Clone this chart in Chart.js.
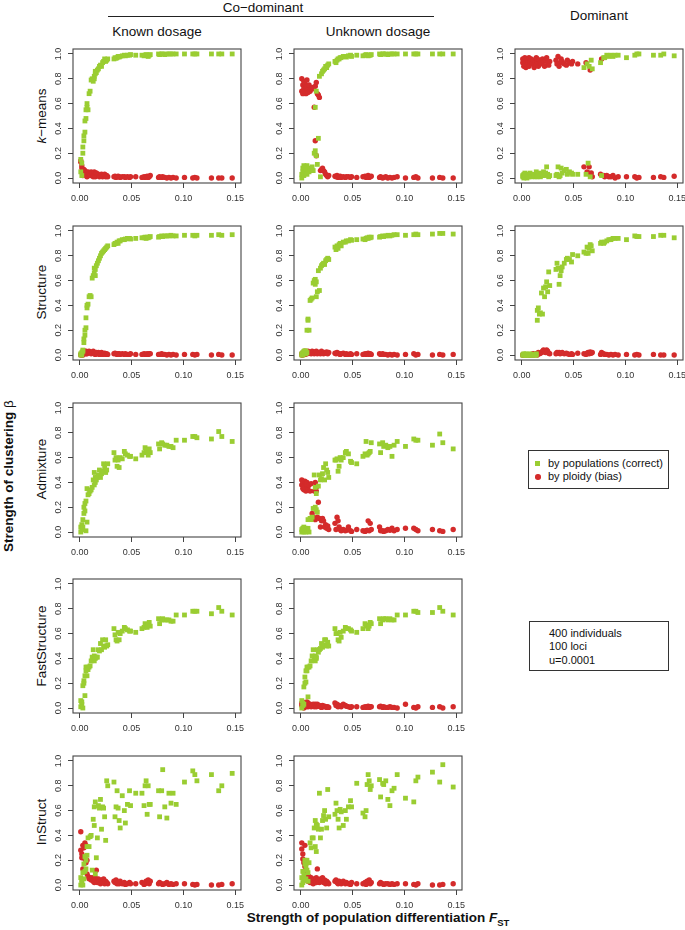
<!DOCTYPE html>
<html><head><meta charset="utf-8">
<script src="https://cdn.jsdelivr.net/npm/chart.js@4/dist/chart.umd.min.js"></script>
<style>
body{margin:0;background:#fff;}
#fig{position:relative;width:685px;height:930px;overflow:hidden;font-family:'Liberation Sans',Arial,sans-serif;color:#111;}
.t{position:absolute;white-space:nowrap;transform:translate(-50%,-50%);font-size:13.5px;line-height:1;}
.r{position:absolute;white-space:nowrap;transform:translate(-50%,-50%) rotate(-90deg);font-size:13.5px;line-height:1;}
canvas{position:absolute;}
.box{position:absolute;border:1px solid #333;box-sizing:border-box;font-size:11px;}
</style></head>
<body>
<div id="fig">
  <div class="t" style="left:263px;top:8px;">Co−dominant</div>
  <div style="position:absolute;left:108px;top:16px;width:326px;height:0;border-top:1.3px solid #222;"></div>
  <div class="t" style="left:157px;top:32px;">Known dosage</div>
  <div class="t" style="left:378px;top:32px;">Unknown dosage</div>
  <div class="t" style="left:599px;top:16px;">Dominant</div>
  <div class="r" style="left:42px;top:116px;"><i>k</i>−means</div>
  <div class="r" style="left:42px;top:292px;">Structure</div>
  <div class="r" style="left:42px;top:469px;">Admixture</div>
  <div class="r" style="left:42px;top:646px;">FastStructure</div>
  <div class="r" style="left:42px;top:822px;">InStruct</div>
  <div class="r" style="left:9px;top:476px;font-weight:bold;">Strength of clustering <span style="font-weight:normal">β</span></div>
  <div class="t" style="left:378px;top:919px;font-weight:bold;">Strength of population differentiation <i>F</i><sub style="font-size:9.5px;">ST</sub></div>
  <div class="box" style="left:528px;top:450px;width:141px;height:39px;">
    <div style="position:absolute;left:6px;top:10px;width:5px;height:5px;background:#9ACD32;"></div>
    <div style="position:absolute;left:6px;top:23px;width:5.5px;height:5.5px;border-radius:50%;background:#D42B2B;"></div>
    <div style="position:absolute;left:19px;top:6px;line-height:13px;">by populations (correct)<br>by ploidy (bias)</div>
  </div>
  <div class="box" style="left:529px;top:621px;width:140px;height:50px;">
    <div style="position:absolute;left:19px;top:5px;line-height:13.3px;">400 individuals<br>100 loci<br>u=0.0001</div>
  </div>
</div>
<script>
// ---------- data ----------
const fst = [
0.001,0.001,0.002,0.002,0.003,0.003,0.004,0.004,0.005,0.005,
0.006,0.006,0.007,0.007,0.008,0.009,0.010,0.011,0.012,0.013,
0.014,0.014,0.015,0.015,0.016,0.017,0.018,0.019,0.020,0.021,
0.022,0.023,0.024,0.025,0.026,0.027,0.033,0.034,0.035,0.036,
0.037,0.038,0.039,0.041,0.043,0.044,0.046,0.048,0.049,0.054,
0.060,0.062,0.063,0.064,0.065,0.066,0.067,0.068,0.076,0.077,
0.079,0.080,0.082,0.084,0.086,0.088,0.090,0.093,0.101,0.109,
0.111,0.113,0.127,0.134,0.137,0.147];

const xTickLabels = ['0.00','0.05','0.10','0.15'];
const yTickLabels = ['0.0','0.2','0.4','0.6','0.8','1.0'];
const seriesNames = ['by populations (correct)','by ploidy (bias)'];

const kmKnownPop = [
.15,.05,.12,.02,.25,.20,.34,.30,.37,.46,
.48,.55,.57,.60,.55,.68,.70,.79,.80,.78,
.82,.80,.84,.86,.85,.87,.88,.90,.91,.90,
.93,.94,.96,.94,.95,.96,.96,.97,.965,.97,
.98,.975,.98,.985,.99,.985,.99,.99,.995,.99,
.99,.985,.99,.995,.99,.98,.99,.995,1,.995,
1,1,.995,1,1,1,1,1,1,1,
1,1,1,1,1,1];
const kmKnownPloidy = [
.13,.14,.08,.10,.05,.02,.07,.04,.06,.03,
.05,.02,.04,.01,.05,.03,.02,.05,.04,.01,
.05,.02,.03,.01,.04,.02,.03,.01,.02,.03,
.01,.02,.03,.01,.02,.01,.01,.015,.005,.01,
.015,.01,.005,.01,.01,.005,.01,.005,.01,.01,
.005,.01,.005,.01,.015,.005,.01,.02,.005,.01,
.005,.01,.005,0,.005,0,.005,0,.005,0,
.005,0,0,0,0,0];
const kmUnknownPop = [
.03,0,.05,.08,.02,.10,.06,.09,.04,.07,
.10,.03,.06,.08,.05,.07,.06,.09,.06,.20,
.57,.22,.18,.70,.11,.32,.82,.01,.84,.86,
.87,.88,.90,.89,.91,.92,.94,.93,.95,.96,
.96,.97,.97,.98,.98,.975,.985,.99,.98,.99,
.985,.99,.995,.99,.985,.99,.99,.995,1,.995,
1,1,1,.995,1,1,1,1,1,1,
1,1,1,1,1,1];
const kmUnknownPloidy = [
.70,.80,.68,.75,.72,.78,.70,.76,.68,.73,
.74,.79,.71,.69,.75,.70,.72,.73,.72,.57,
.30,.74,.18,.77,.68,.67,.65,.06,.07,.08,
.06,.05,.03,.02,.01,.02,.015,.01,.02,.005,
.01,.015,.005,.01,.005,.01,.01,.005,.01,.005,
.01,.015,.005,.01,.02,.005,.01,.015,.005,.01,
0,.005,.01,0,.005,0,.005,.01,0,.005,
.01,0,0,.005,0,0];
const kmDomPop = [
.02,.01,.03,0,.02,.04,.01,.03,.02,0,
.01,.03,.02,.01,.04,.02,.01,.03,.02,.01,
.05,.02,.03,.01,.02,.04,.01,.03,.02,.05,
.02,.04,.09,.03,.01,.02,.02,.03,.09,.01,
.02,.08,.04,.06,.07,.03,.05,.04,.03,.03,
.89,.03,.92,.12,.90,.01,.95,.88,.93,.02,
.97,.97,.99,.98,.99,.98,.99,.99,.97,.99,
1,1,.99,.99,1,.985];
const kmDomPloidy = [
.96,.93,.95,.90,.97,.92,.94,.89,.96,.91,
.95,.93,.97,.90,.94,.96,.92,.95,.89,.93,
.97,.91,.94,.96,.90,.95,.93,.92,.96,.94,
.90,.95,.97,.93,.91,.94,.95,.92,.98,.90,
.93,.96,.94,.92,.91,.95,.93,.92,.94,.92,
.09,.93,.05,.04,.09,.87,.04,.01,.03,.96,
.02,.01,.02,.01,.01,.02,0,.01,.01,.01,
0,.005,.005,.01,.005,.015];
const strKnownPop = [
0,.01,.02,0,.04,.03,.10,.13,.16,.20,
.22,.30,.38,.40,.41,.47,.48,.47,.62,.64,
.66,.70,.69,.64,.72,.74,.76,.78,.80,.82,
.83,.84,.85,.86,.87,.88,.89,.90,.90,.91,
.90,.92,.92,.93,.93,.935,.94,.94,.935,.94,
.945,.945,.95,.94,.95,.945,.95,.955,.95,.955,
.96,.955,.96,.96,.96,.965,.96,.96,.965,.965,
.96,.965,.965,.97,.965,.97];
const strKnownPloidy = [
0,.005,0,.01,.005,0,.02,.01,.03,.02,
.01,.03,.02,.01,.025,.03,.02,.01,.02,.03,
.01,.02,.015,.005,.02,.01,.02,.005,.01,.02,
.005,.01,.015,.005,.01,.005,.01,.015,.01,.005,
.01,.01,.005,.01,.005,.01,.005,.005,.01,.005,
.005,.01,.005,.005,.01,.005,.01,.01,.005,.005,
.01,.005,.005,0,.005,0,.005,0,.005,.005,
0,.005,0,.005,0,0];
const strUnknownPop = [
0,.01,0,.02,.01,.03,.035,.02,.01,.03,
.02,.20,.29,.28,.20,.44,.45,.46,.58,.60,
.57,.61,.47,.59,.51,.68,.52,.70,.72,.73,
.74,.73,.76,.77,.78,.77,.87,.85,.88,.86,
.89,.90,.88,.91,.91,.92,.92,.93,.925,.93,
.935,.93,.94,.945,.94,.95,.945,.95,.95,.955,
.96,.955,.96,.965,.96,.965,.97,.97,.965,.97,
.975,.97,.975,.98,.98,.975];
const strUnknownPloidy = [
0,.01,.005,0,.02,.01,.03,.005,.02,.01,
.025,.01,.02,.03,.015,.02,.01,.03,.02,.01,
.025,.015,.02,.03,.01,.02,.015,.01,.03,.02,
.01,.02,.015,.025,.01,.02,.015,.01,.02,.015,
.01,.005,.01,.015,.005,.01,.005,.01,.005,.01,
.005,.01,.005,.01,.015,.005,.01,.005,.01,.005,
.01,.005,.005,0,.005,0,.005,0,.005,.01,
0,.005,0,.005,0,.005];
const strDomPop = [
0,0,.01,0,0,.005,0,.01,0,0,
0,.005,0,0,.01,0,0,.005,0,0,
.01,0,.28,.36,.38,.33,.34,.50,.33,.54,
.47,.55,.59,.51,.67,.56,.69,.74,.70,.57,
.64,.68,.71,.74,.77,.78,.77,.75,.81,.80,
.83,.82,.87,.82,.86,.89,.88,.84,.90,.91,
.90,.91,.92,.93,.93,.94,.94,.94,.93,.96,
.955,.955,.955,.965,.965,.945];
const strDomPloidy = [
0,0,0,0,0,0,0,0,0,0,
0,0,0,0,0,.005,0,.01,0,.005,
.01,.005,.01,0,.02,.01,.015,.02,.03,.04,
.025,.02,.04,.03,.015,.01,.01,.02,.015,.02,
.01,.015,.02,.01,.015,.01,.005,.01,.005,.015,
.01,.005,.015,.02,.01,.025,.015,.02,.005,.02,
.01,.005,.005,0,.005,0,.005,0,.005,0,
.005,0,.005,0,0,0];
const admKnownPop = [
.04,0,.06,.02,.04,.10,.15,.20,.23,.17,
.01,.25,.35,.08,.30,.31,.33,.34,.36,.42,
.48,.38,.40,.44,.42,.44,.46,.50,.44,.47,
.49,.55,.52,.48,.50,.55,.64,.58,.60,.53,
.58,.52,.60,.59,.65,.63,.62,.61,.61,.59,
.62,.64,.68,.66,.65,.62,.67,.64,.71,.67,
.72,.71,.70,.70,.69,.69,.68,.74,.74,.77,
.77,.76,.75,.81,.77,.73];
const admUnknownPop = [
.02,0,.03,.01,.04,0,.02,.01,.03,0,
.02,.01,.10,.03,0,.11,.10,.12,.19,.46,
.20,.36,.18,.31,.16,.37,.46,.42,.43,.47,
.52,.42,.55,.50,.48,.44,.58,.58,.59,.49,
.53,.60,.58,.60,.64,.65,.63,.57,.56,.55,
.61,.63,.73,.62,.63,.64,.65,.72,.71,.64,
.72,.69,.70,.68,.69,.61,.70,.73,.69,.75,
.74,.74,.70,.79,.72,.67];
const admUnknownPloidy = [
.38,.42,.35,.40,.34,.37,.41,.36,.33,.39,
.35,.40,.37,.34,.38,.33,.39,.15,.12,.33,
.40,.10,.33,.36,.12,.24,.11,.04,.09,.11,
.09,.04,.06,.03,.05,.02,.07,.02,.12,.09,
.04,.02,.01,.02,.01,.015,.04,.01,.005,.02,
.01,.005,.01,.015,.09,.01,.07,.02,.04,.01,
.01,.005,.01,.02,.015,.03,.01,.02,.03,.03,
.02,.01,.02,.01,.005,.02];
const fastKnownPop = [
.01,.06,.03,.05,.18,0,.20,.22,.10,.26,
.30,.33,.26,.33,.31,.33,.34,.38,.41,.47,
.42,.38,.41,.40,.41,.41,.47,.46,.52,.47,
.55,.50,.49,.55,.50,.51,.64,.59,.55,.54,
.61,.55,.60,.62,.65,.64,.63,.62,.62,.61,
.64,.65,.68,.66,.65,.67,.69,.66,.72,.68,
.71,.72,.71,.71,.71,.70,.70,.75,.75,.78,
.78,.78,.76,.81,.78,.75];
const fastUnknownPop = [
.06,0,.02,.04,.17,.03,.20,.25,.21,.30,
.33,.30,.09,.33,.33,.34,.38,.42,.47,.41,
.42,.38,.40,.41,.47,.45,.47,.48,.52,.49,
.51,.55,.55,.50,.53,.50,.64,.60,.60,.55,
.54,.61,.57,.62,.65,.64,.64,.63,.62,.61,
.64,.68,.66,.67,.64,.66,.69,.68,.72,.68,
.71,.72,.72,.71,.72,.71,.71,.75,.75,.78,
.78,.77,.77,.81,.78,.75];
const fastUnknownPloidy = [
.02,.04,.01,.05,.03,0,.02,.04,.01,.03,
.05,.02,.04,.01,.02,.03,.01,.02,.03,.01,
.02,.03,.01,.02,.03,.015,.02,.01,.005,.02,
.01,.015,.01,.005,.01,.005,.04,.02,.03,.01,
.02,.015,.01,.03,.02,.015,.01,.005,.01,.01,
.005,.01,.005,.01,.015,.005,.01,.01,.01,.015,
.005,.01,.005,.005,.01,.005,.005,0,.03,.005,
0,.01,.005,.01,0,.01];
const instKnownPop = [
0,.06,.02,.04,.10,0,.17,.05,.23,.11,
.13,.20,.31,.24,.38,.31,.39,.40,.12,.53,
.48,.63,.67,.09,.22,.38,.64,.62,.69,.45,
.63,.62,.55,.36,.84,.80,.83,.55,.63,.76,
.62,.52,.46,.72,.60,.50,.65,.76,.64,.74,
.74,.64,.80,.84,.57,.80,.65,.65,.76,.55,
.76,.93,.63,.54,.74,.66,.74,.65,.83,.92,
.89,.84,.89,.76,.80,.90];
const instKnownPloidy = [
.43,.28,.25,.22,.32,.13,.30,.11,.34,.21,
.18,.32,.09,.20,.07,.05,.06,.04,.06,.03,
.05,.02,.04,.06,.12,.02,.05,.03,.01,.04,
.02,.05,.01,.03,.02,.01,.03,.02,.04,.01,
.02,.01,.03,.01,.02,.005,.01,.02,.01,.01,
.02,.005,.01,.03,.02,.04,.01,.03,.01,.02,
.01,.005,.01,.02,.005,.01,.005,.01,.01,.005,
0,.005,0,0,.005,.01];
const instUnknownPop = [
0,.06,.11,.02,.04,.08,.17,.20,.15,.05,
.12,.20,.10,.03,.18,.34,.30,.38,.38,.46,
.52,.31,.49,.27,.48,.45,.74,.38,.45,.52,
.56,.60,.53,.46,.77,.55,.57,.66,.60,.53,
.46,.61,.59,.48,.60,.53,.63,.68,.63,.82,
.58,.55,.60,.81,.89,.84,.77,.80,.85,.71,
.82,.81,.84,.69,.64,.76,.78,.89,.70,.67,
.84,.87,.91,.83,.97,.79];
const instUnknownPloidy = [
.34,.29,.25,.21,.18,.06,.32,.15,.17,.09,
.04,.06,.03,.05,.07,.02,.06,.04,.01,.05,
.03,.02,.06,.02,.13,.04,.02,.05,.03,.06,
.02,.04,.01,.03,.02,.01,.03,.04,.02,.01,
.03,.02,.01,.03,.01,.02,.01,.005,.02,.01,
.01,.02,.005,.03,.02,.04,.01,.02,.01,.02,
.01,.005,.01,.01,.005,.01,.005,.01,.01,.005,
0,.01,0,0,.005,.01];

// ---------- layout ----------
const colLeft = [73, 294, 515];
const rowTop = [49, 225.5, 402.5, 579, 755.5];
const boxW = 168, boxH = 134;
const GREEN = '#9ACD32', RED = '#D42B2B';

const panels = [
  {c:0,r:0,pop:kmKnownPop,ploidy:kmKnownPloidy},
  {c:1,r:0,pop:kmUnknownPop,ploidy:kmUnknownPloidy},
  {c:2,r:0,pop:kmDomPop,ploidy:kmDomPloidy},
  {c:0,r:1,pop:strKnownPop,ploidy:strKnownPloidy},
  {c:1,r:1,pop:strUnknownPop,ploidy:strUnknownPloidy},
  {c:2,r:1,pop:strDomPop,ploidy:strDomPloidy},
  {c:0,r:2,pop:admKnownPop,ploidy:null},
  {c:1,r:2,pop:admUnknownPop,ploidy:admUnknownPloidy},
  {c:0,r:3,pop:fastKnownPop,ploidy:null},
  {c:1,r:3,pop:fastUnknownPop,ploidy:fastUnknownPloidy},
  {c:0,r:4,pop:instKnownPop,ploidy:instKnownPloidy},
  {c:1,r:4,pop:instUnknownPop,ploidy:instUnknownPloidy}
];

Chart.defaults.font.family = "'Liberation Sans', Arial, sans-serif";

const rStyle = {
  id: 'rStyle',
  afterDraw(chart) {
    const {ctx, chartArea: a, scales: {y}} = chart;
    ctx.save();
    ctx.strokeStyle = '#444';
    ctx.lineWidth = 1.1;
    ctx.strokeRect(a.left, a.top, a.right - a.left, a.bottom - a.top);
    ctx.fillStyle = '#333';
    ctx.font = "9px 'Liberation Sans', Arial, sans-serif";
    ctx.textAlign = 'center';
    ctx.textBaseline = 'middle';
    y.ticks.forEach((t, i) => {
      const py = y.getPixelForValue(t.value);
      ctx.save();
      ctx.translate(a.left - 14, py);
      ctx.rotate(-Math.PI / 2);
      ctx.fillText(yTickLabels[i], 0, 0);
      ctx.restore();
    });
    ctx.restore();
  }
};

const fig = document.getElementById('fig');
panels.forEach(p => {
  const cv = document.createElement('canvas');
  const W = 210, H = 168;
  cv.width = W; cv.height = H;
  cv.style.width = W + 'px'; cv.style.height = H + 'px';
  cv.style.left = (colLeft[p.c] - 30) + 'px';
  cv.style.top = (rowTop[p.r] - 4) + 'px';
  fig.appendChild(cv);
  const datasets = [{
    label: seriesNames[0],
    data: fst.map((x, i) => ({x: x, y: p.pop[i]})),
    pointStyle: 'rect', pointRadius: 3.4, borderWidth: 0,
    backgroundColor: GREEN, pointHoverRadius: 3.4
  }];
  if (p.ploidy) datasets.push({
    label: seriesNames[1],
    data: fst.map((x, i) => ({x: x, y: p.ploidy[i]})),
    pointStyle: 'circle', pointRadius: 2.7, borderWidth: 0,
    backgroundColor: RED, pointHoverRadius: 2.7
  });
  new Chart(cv, {
    type: 'scatter',
    data: {datasets},
    options: {
      responsive: false, animation: false, devicePixelRatio: 1,
      layout: {padding: {left: 0, top: 4, right: 12, bottom: 0}},
      plugins: {legend: {display: false}, tooltip: {enabled: false}},
      events: [],
      scales: {
        x: {
          type: 'linear', min: -0.0065, max: 0.1555,
          border: {display: false},
          grid: {drawOnChartArea: false, drawTicks: true, tickLength: 5, color: '#444', lineWidth: 1},
          ticks: {stepSize: 0.05, includeBounds: false, autoSkip: false, maxRotation: 0,
                  padding: 5, color: '#333', font: {size: 9},
                  callback: (v, i) => xTickLabels[i]},
          afterFit: s => { s.height = 30; }
        },
        y: {
          type: 'linear', min: -0.04, max: 1.04,
          border: {display: false},
          grid: {drawOnChartArea: false, drawTicks: true, tickLength: 5, color: '#444', lineWidth: 1},
          ticks: {stepSize: 0.2, includeBounds: false, display: false},
          afterFit: s => { s.width = 30; }
        }
      }
    },
    plugins: [rStyle]
  });
});
</script>
</body></html>
